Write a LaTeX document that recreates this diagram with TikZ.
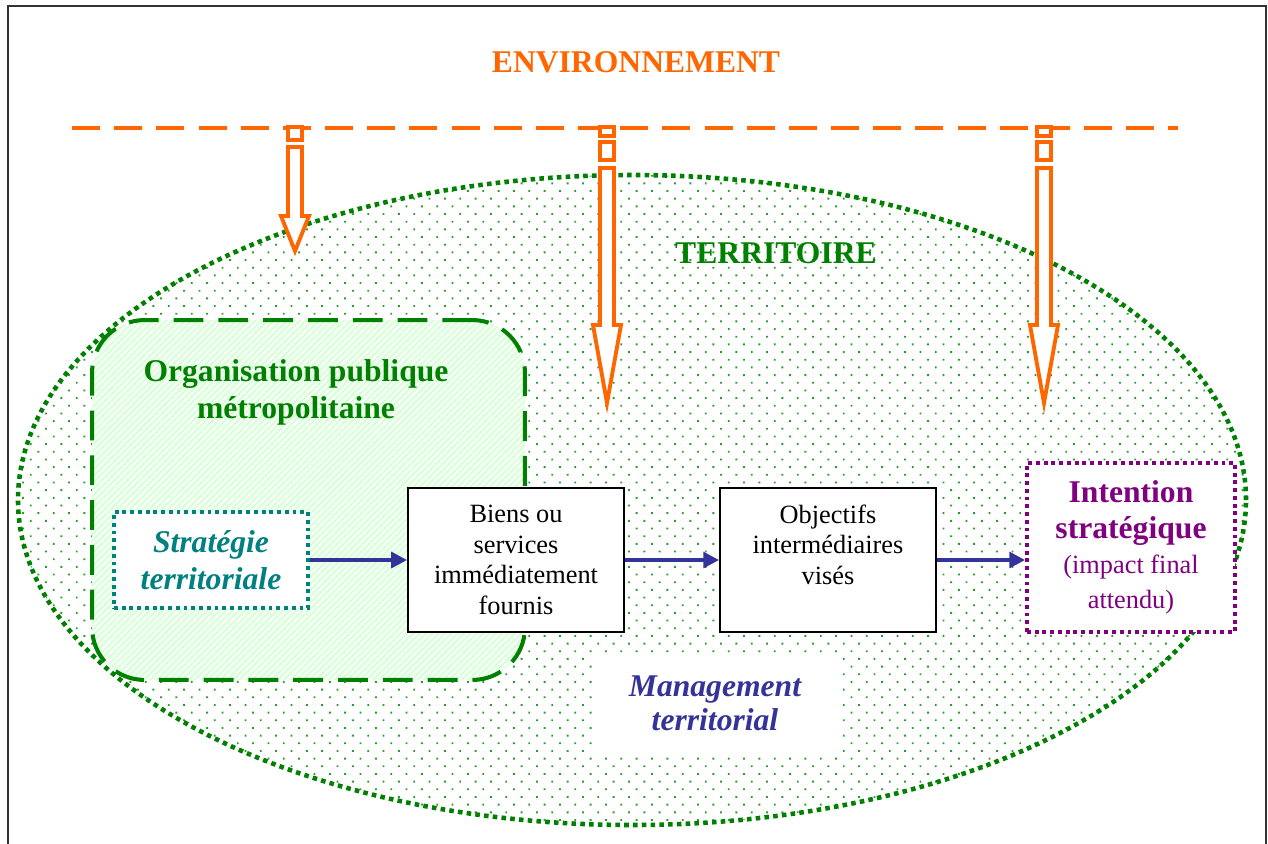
\documentclass[tikz,border=0pt]{standalone}
\usepackage{fontspec}
\setmainfont{Liberation Serif}
\usetikzlibrary{arrows.meta}
\usetikzlibrary{patterns.meta}

\definecolor{envorange}{HTML}{FF6600}
\definecolor{terrgreen}{HTML}{008000}
\definecolor{dotgreen}{HTML}{2A9E2A}
\definecolor{stratteal}{HTML}{008080}
\definecolor{intpurple}{HTML}{800080}
\definecolor{mgtblue}{HTML}{333399}

\tikzset{
  etape/.style={draw, line width=1.1pt, fill=white, minimum width=4.32cm, minimum height=2.88cm, align=center, inner sep=2pt, font=\fontsize{15}{17.5}\selectfont},
  envfleche/.style={draw=envorange, line width=2.2pt, fill=white, line join=miter},
  flux/.style={-{Triangle[length=9pt,width=9pt]}, draw=mgtblue, line width=2pt},
  grostitre/.style={font=\fontsize{18}{21}\selectfont\bfseries, align=center},
}

\begin{document}
\begin{tikzpicture}[x=0.02cm, y=-0.02cm]
            \useasboundingbox (0,0) rectangle (1268,843);
            \draw[line width=1.3pt, black!80] (8,860) -- (8,6) -- (1266,6) -- (1266,860);
            \node[grostitre, text=envorange] (env) at (636,62) {ENVIRONNEMENT};
            \draw[envorange, line width=2pt, dash pattern=on 16pt off 8pt] (72,128) -- (1178,128);
            \path[draw=terrgreen, line width=2.6pt, dash pattern=on 2.6pt off 2.4pt, pattern={Dots[angle=45, distance=2.17mm, radius=0.75pt]}, pattern color=dotgreen] (632,500) ellipse [x radius=614, y radius=-325];
            \node[grostitre, text=terrgreen] (terr) at (776,253) {TERRITOIRE};
            \node[draw=terrgreen, line width=2.3pt, dash pattern=on 17pt off 8.5pt, rounded corners=30pt, minimum width=8.66cm, minimum height=7.2cm, preaction={fill=green!5}, pattern={Lines[angle=45, distance=0.9mm, line width=0.5pt]}, pattern color=green!22] (orga) at (308.5,500) {};
            \node[grostitre, text=terrgreen] (orgatitre) at (296,392) {Organisation publique\\m\'etropolitaine};
            \node[draw=stratteal, line width=2.2pt, dash pattern=on 2.2pt off 2.2pt, fill=white, minimum width=3.88cm, minimum height=1.92cm, align=center, text=stratteal, font=\fontsize{18}{21}\selectfont\bfseries\itshape] (strat) at (211,560) {Strat\'egie\\territoriale};
            \node[etape] (biens) at (516,560) {Biens ou\\services\\imm\'ediatement\\fournis};
            \node[etape] (obj) at (828,560) {Objectifs\\interm\'ediaires\\vis\'es\\\mbox{}};
            \node[draw=intpurple, line width=2.2pt, dash pattern=on 2.2pt off 2.2pt, fill=white, minimum width=4.16cm, minimum height=3.38cm, align=center, text=intpurple, font=\fontsize{18}{20}\selectfont] (intention) at (1131,547.5) {\bfseries Intention\\\bfseries strat\'egique\\\fontsize{15}{18}\selectfont (impact final\\\fontsize{15}{16.5}\selectfont attendu)};
            \node[fill=white, minimum width=4.92cm, minimum height=1.94cm, align=center, text=mgtblue, font=\fontsize{18}{19.5}\selectfont\bfseries\itshape] (mgt) at (715,703) {Management\\territorial};
            \draw[flux] (strat) -- (biens);
            \draw[flux] (biens) -- (obj);
            \draw[flux] (obj) -- (intention.west |- obj);
            \draw[envfleche] (288,127) rectangle (302,140);
            \draw[envfleche] (288,147) -- (302,147) -- (302,216) -- (309,216) -- (295,251) -- (281,216) -- (288,216) -- cycle;
            \draw[envfleche] (600,127) rectangle (614,136);
            \draw[envfleche] (600,142) rectangle (614,160);
            \draw[envfleche] (600,168) -- (614,168) -- (614,325) -- (621,325) -- (607,403) -- (593,325) -- (600,325) -- cycle;
            \draw[envfleche] (1037,127) rectangle (1051,136);
            \draw[envfleche] (1037,142) rectangle (1051,160);
            \draw[envfleche] (1037,168) -- (1051,168) -- (1051,325) -- (1058,325) -- (1044,403) -- (1030,325) -- (1037,325) -- cycle;
        \end{tikzpicture}
\end{document}
